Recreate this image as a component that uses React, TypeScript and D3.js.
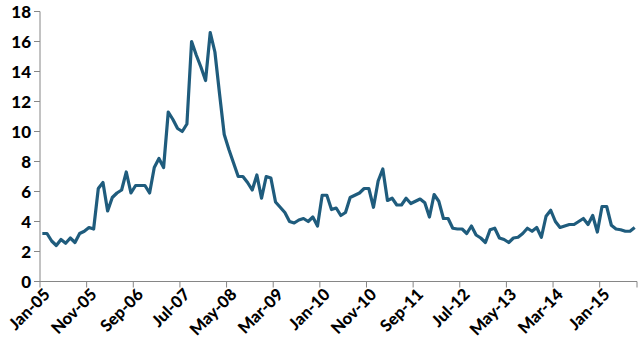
import React from 'react';
import * as d3 from 'd3';

// monthly values, Jan-05 .. Aug-15
const values = [
  3.2, 3.2, 2.7, 2.4, 2.8, 2.55, 2.9, 2.6, 3.2, 3.35, 3.6, 3.5,
  6.2, 6.6, 4.7, 5.6, 5.9, 6.1, 7.3, 5.9, 6.4, 6.4, 6.4, 5.9,
  7.6, 8.2, 7.6, 11.3, 10.8, 10.2, 10.0, 10.5, 16.0, 15.1, 14.3, 13.4,
  16.6, 15.3, 12.5, 9.8, 8.8, 7.9, 7.0, 7.0, 6.6, 6.1, 7.1, 5.55,
  7.0, 6.9, 5.3, 4.95, 4.6, 4.0, 3.9, 4.1, 4.2, 4.0, 4.3, 3.7,
  5.75, 5.75, 4.8, 4.9, 4.4, 4.6, 5.6, 5.75, 5.9, 6.2, 6.2, 4.95,
  6.7, 7.5, 5.4, 5.55, 5.1, 5.1, 5.55, 5.2, 5.35, 5.5, 5.25, 4.3,
  5.8, 5.35, 4.2, 4.2, 3.55, 3.5, 3.5, 3.2, 3.7, 3.1, 2.9, 2.6,
  3.45, 3.55, 2.9, 2.8, 2.6, 2.9, 2.95, 3.2, 3.55, 3.35, 3.6, 2.95,
  4.35, 4.75, 4.0, 3.6, 3.7, 3.8, 3.8, 4.0, 4.2, 3.8, 4.4, 3.3,
  5.0, 5.0, 3.75, 3.5, 3.45, 3.35, 3.35, 3.6,
];

const tickLabels = [
  'Jan-05', 'Nov-05', 'Sep-06', 'Jul-07', 'May-08', 'Mar-09', 'Jan-10',
  'Nov-10', 'Sep-11', 'Jul-12', 'May-13', 'Mar-14', 'Jan-15',
];
const tickEvery = 10;
const yTicks = [0, 2, 4, 6, 8, 10, 12, 14, 16, 18];

const W = 640;
const H = 348;
const left = 40;
const right = 637;
const top = 11.5;
const bottom = 281.5;
const font = 'Lato, "Open Sans", sans-serif';
const axisColor = '#868686';

const App: React.FC = () => {
  const x = d3.scaleLinear().domain([0, values.length]).range([left, right]);
  const y = d3.scaleLinear().domain([0, 18]).range([bottom, top]);

  const line = d3
    .line<number>()
    .x((_, i) => x(i + 0.5))
    .y((d) => y(d));

  return (
    <svg
      width={W}
      height={H}
      style={{ position: 'absolute', left: 0, top: 0, background: '#fff' }}
    >
      {/* y axis */}
      <line x1={left} x2={left} y1={top} y2={bottom} stroke={axisColor} />
      {yTicks.map((t) => (
        <g key={t}>
          <line x1={left - 6} x2={left} y1={y(t)} y2={y(t)} stroke={axisColor} />
          <text
            x={left - 9}
            y={y(t)}
            dy="0.36em"
            textAnchor="end"
            fontFamily={font}
            fontWeight="900"
            fontSize={17}
            fill="#000"
          >
            {t}
          </text>
        </g>
      ))}
      {/* x axis */}
      <line x1={left} x2={right} y1={bottom} y2={bottom} stroke={axisColor} />
      {tickLabels.map((lab, k) => {
        const tx = x(k * tickEvery);
        return (
          <g key={lab}>
            <line x1={tx} x2={tx} y1={bottom} y2={bottom + 6} stroke={axisColor} />
            <text
              transform={`translate(${tx + 7},${bottom + 10}) rotate(-45)`}
              dy="0.35em"
              textAnchor="end"
              fontFamily={font}
              fontWeight="900"
              fontSize={16.5}
              fill="#000"
            >
              {lab}
            </text>
          </g>
        );
      })}
      <line x1={right} x2={right} y1={bottom} y2={bottom + 6} stroke={axisColor} />
      <path
        d={line(values) as string}
        fill="none"
        stroke="#1F5C7D"
        strokeWidth={3.2}
        strokeLinejoin="round"
      />
    </svg>
  );
};

export default App;
